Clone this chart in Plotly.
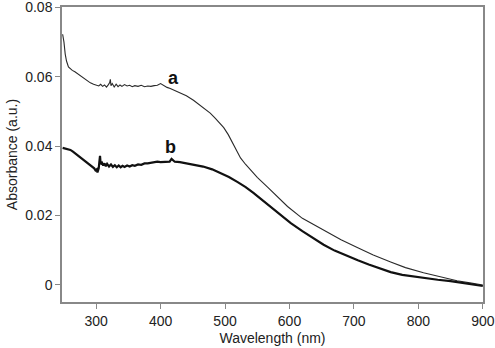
import plotly.graph_objects as go

wl_a = [248, 250, 252, 254, 257, 260, 263, 267, 271, 275, 280, 285, 291, 296, 300, 304, 307, 310, 313, 316,
        319, 321, 322, 323, 325, 328, 331, 334, 337, 340, 344, 348, 352, 356, 360, 365, 370, 375, 380, 385,
        390, 395, 400, 403, 406, 410, 415, 420, 430, 440, 451, 460, 470, 477, 485, 492, 498, 505, 512, 518,
        524, 532, 540, 550, 566, 580, 597, 620, 653, 680, 706, 730, 757, 780, 808, 825, 840, 845, 860, 880, 900]
abs_a = [0.0722, 0.0700, 0.0665, 0.0645, 0.0628, 0.0622, 0.0618, 0.0614, 0.0609, 0.0604, 0.0597, 0.0589,
         0.0582, 0.0578, 0.0576, 0.0573, 0.0578, 0.0572, 0.0576, 0.0570, 0.0577, 0.0583, 0.0592, 0.0574,
         0.0580, 0.0570, 0.0578, 0.0571, 0.0576, 0.0572, 0.0577, 0.0573, 0.0575, 0.0571, 0.0574, 0.0572,
         0.0575, 0.0571, 0.0573, 0.0572, 0.0574, 0.0575, 0.0580, 0.0576, 0.0572, 0.0569, 0.0566, 0.0562,
         0.0555, 0.0545, 0.0532, 0.0519, 0.0505, 0.0495, 0.0480, 0.0467, 0.0453, 0.0433, 0.0408, 0.0386,
         0.0366, 0.0347, 0.0330, 0.0310, 0.0282, 0.0256, 0.0226, 0.0192, 0.0158, 0.0130, 0.0107, 0.0086,
         0.0066, 0.0050, 0.0035, 0.0027, 0.0021, 0.0019, 0.0012, 0.0006, 0.0000]

wl_b = [248, 252, 256, 260, 264, 268, 272, 276, 280, 284, 288, 291, 294, 297, 299, 301, 302, 303, 304, 305,
        306, 307, 309, 311, 313, 315, 317, 320, 323, 326, 329, 332, 335, 338, 341, 344, 348, 352, 356, 360,
        365, 370, 375, 380, 385, 390, 395, 400, 405, 410, 414, 417, 419, 422, 430, 441, 452, 466, 480, 493,
        506, 519, 532, 544, 557, 571, 586, 602, 620, 636, 653, 670, 688, 706, 723, 740, 757, 775, 792, 808,
        830, 850, 870, 885, 900]
abs_b = [0.0395, 0.0393, 0.0391, 0.0389, 0.0384, 0.0378, 0.0372, 0.0366, 0.0361, 0.0356, 0.0350, 0.0346,
         0.0341, 0.0336, 0.0330, 0.0333, 0.0324, 0.0328, 0.0336, 0.0355, 0.0372, 0.0348, 0.0352, 0.0344,
         0.0350, 0.0342, 0.0349, 0.0341, 0.0347, 0.0340, 0.0345, 0.0339, 0.0344, 0.0339, 0.0343, 0.0340,
         0.0344, 0.0341, 0.0345, 0.0343, 0.0347, 0.0346, 0.0350, 0.0350, 0.0352, 0.0353, 0.0355, 0.0354,
         0.0355, 0.0354, 0.0355, 0.0363, 0.0359, 0.0355, 0.0354, 0.0350, 0.0346, 0.0341, 0.0333, 0.0322,
         0.0311, 0.0297, 0.0282, 0.0265, 0.0246, 0.0225, 0.0202, 0.0178, 0.0155, 0.0135, 0.0116, 0.0099,
         0.0084, 0.0071, 0.0059, 0.0047, 0.0037, 0.0029, 0.0024, 0.0020, 0.0015, 0.0011, 0.0006, 0.0002,
         -0.0003]

x_ticks = [300, 400, 500, 600, 700, 800, 900]
y_ticks = [0, 0.02, 0.04, 0.06, 0.08]
y_tick_text = ["0", "0.02", "0.04", "0.06", "0.08"]

fig = go.Figure()
fig.add_trace(go.Scatter(x=wl_a, y=abs_a, mode="lines", line=dict(color="#2a2a2a", width=1.1), name="a"))
fig.add_trace(go.Scatter(x=wl_b, y=abs_b, mode="lines", line=dict(color="#111111", width=2.2), name="b"))

font = "Liberation Sans, Arial, Helvetica, sans-serif"
fig.add_annotation(x=420, y=0.0597, text="<b>a</b>", showarrow=False,
                   font=dict(family=font, size=18, color="#111"))
fig.add_annotation(x=415, y=0.0397, text="<b>b</b>", showarrow=False,
                   font=dict(family=font, size=18, color="#111"))

fig.update_layout(
    width=495, height=348,
    margin=dict(l=62, r=12, t=7, b=46, autoexpand=False),
    paper_bgcolor="white", plot_bgcolor="white",
    showlegend=False,
    font=dict(family=font, size=14, color="#222"),
)
fig.update_xaxes(range=[247, 900.3], tickvals=x_ticks, ticks="outside", ticklen=5, tickcolor="#888",
                 showline=True, linecolor="#888", linewidth=1.5, mirror=True, showgrid=False, zeroline=False,
                 automargin=False, ticklabeloverflow="allow",
                 title=dict(text="Wavelength (nm)", standoff=6, font=dict(size=14)),
                 tickfont=dict(size=14))
fig.update_yaxes(range=[-0.0049, 0.08005], tickvals=y_ticks, ticktext=y_tick_text, ticks="outside", ticklen=5,
                 tickcolor="#888", showline=True, linecolor="#888", linewidth=1.5, mirror=True,
                 showgrid=False, zeroline=False, automargin=False, ticklabeloverflow="allow",
                 title=dict(text="Absorbance (a.u.)", standoff=4, font=dict(size=14)),
                 tickfont=dict(size=14))

fig.write_html("out.html", config={"displayModeBar": False},
               post_script="document.body.style.margin='0';document.body.style.overflow='hidden';")
